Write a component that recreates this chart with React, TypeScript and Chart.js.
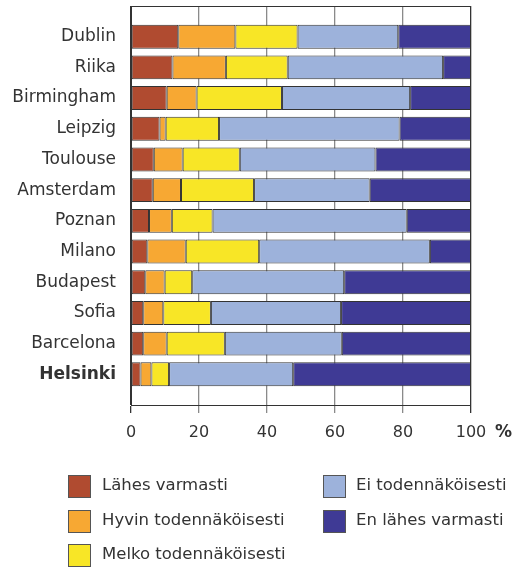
import React, { useEffect, useRef } from "react";
import { Chart, registerables } from "chart.js";

Chart.register(...registerables);

const cities = [
  "Dublin", "Riika", "Birmingham", "Leipzig", "Toulouse", "Amsterdam",
  "Poznan", "Milano", "Budapest", "Sofia", "Barcelona", "Helsinki",
];

const seriesNames = [
  "Lähes varmasti",
  "Hyvin todennäköisesti",
  "Melko todennäköisesti",
  "Ei todennäköisesti",
  "En lähes varmasti",
];

const lahesVarmasti = [13.9, 12.2, 10.5, 8.4, 6.7, 6.4, 5.3, 4.8, 4.2, 3.6, 3.6, 2.8];
const hyvinTod = [16.8, 15.7, 8.8, 1.8, 8.5, 8.3, 6.7, 11.3, 5.7, 5.9, 6.9, 3.2];
const melkoTod = [18.3, 18.2, 25.1, 15.7, 16.8, 21.5, 12.0, 21.6, 8.1, 14.0, 17.1, 5.2];
const eiTod = [29.6, 45.7, 37.7, 53.1, 39.9, 34.0, 57.1, 50.2, 44.7, 38.3, 34.4, 36.5];
const enLahes = [21.4, 8.2, 17.9, 21.0, 28.1, 29.8, 18.9, 12.1, 37.3, 38.2, 38.0, 52.3];

const xTicks = [0, 20, 40, 60, 80, 100];

const colors = ["#B04B30", "#F7A833", "#F8E626", "#9DB2DB", "#3F3A95"];

const FONT = "'DejaVu Sans', Verdana, sans-serif";

const legendPlugin = {
  id: "customLegend",
  afterDraw(chart: any) {
    const ctx = chart.ctx;
    const ds = chart.data.datasets;
    const cols = [
      { sq: 68, tx: 102, items: [0, 1, 2] },
      { sq: 323, tx: 356, items: [3, 4] },
    ];
    const rowY = [486, 521, 555];
    ctx.save();
    ctx.font = `16.5px ${FONT}`;
    ctx.textBaseline = "middle";
    ctx.textAlign = "left";
    cols.forEach((c) => {
      c.items.forEach((di, r) => {
        const y = rowY[r];
        ctx.fillStyle = ds[di].backgroundColor;
        ctx.fillRect(c.sq, y - 11, 22, 22);
        ctx.strokeStyle = "#555";
        ctx.lineWidth = 1;
        ctx.strokeRect(c.sq + 0.5, y - 10.5, 22, 22);
        ctx.fillStyle = "#333";
        ctx.fillText(ds[di].label, c.tx, y);
      });
    });
    // bold % after last x tick
    const xs = chart.scales.x;
    ctx.font = `bold 17px ${FONT}`;
    ctx.fillStyle = "#333";
    ctx.fillText("%", xs.getPixelForValue(100) + 24, 433);
    ctx.restore();
  },
};

export default function App() {
  const ref = useRef<HTMLCanvasElement | null>(null);

  useEffect(() => {
    if (!ref.current) return;
    const series = [lahesVarmasti, hyvinTod, melkoTod, eiTod, enLahes];
    const chart = new Chart(ref.current, {
      type: "bar",
      data: {
        datasets: series.map((vals, si) => ({
          label: seriesNames[si],
          data: vals.map((v, i) => ({ x: v, y: i })),
          backgroundColor: colors[si],
          borderColor: "#333",
          borderWidth: 1,
          borderSkipped: false,
          categoryPercentage: 0.78,
          barPercentage: 1,
        })),
      },
      options: {
        indexAxis: "y",
        animation: false,
        responsive: false,
        maintainAspectRatio: false,
        layout: { padding: { left: 0, right: 51, top: 6, bottom: 0 } },
        plugins: {
          legend: { display: false },
          tooltip: { enabled: false },
        },
        scales: {
          x: {
            type: "linear",
            stacked: true,
            min: 0,
            max: 100,
            offset: false,
            afterBuildTicks: (scale: any) => {
              scale.ticks = xTicks.map((v) => ({ value: v }));
            },
            afterFit: (scale: any) => {
              scale.height = 162;
              scale.paddingLeft = 0;
              scale.paddingRight = 0;
            },
            grid: {
              offset: false,
              color: (c: any) =>
                c.tick && (c.tick.value === 0 || c.tick.value === 100) ? "#333" : "#8a8a8a",
              lineWidth: 1.3,
              tickLength: 8,
              drawTicks: true,
            },
            border: { display: true, color: "#333", width: 1 },
            ticks: {
              color: "#333",
              font: { family: FONT, size: 16 },
              padding: 10,
              maxRotation: 0,
            },
          },
          y: {
            type: "linear",
            stacked: true,
            reverse: true,
            min: -1,
            max: 12,
            offset: false,
            afterBuildTicks: (scale: any) => {
              const t: any[] = [];
              for (let v = -1; v <= 12; v++) t.push({ value: v });
              scale.ticks = t;
            },
            afterFit: (scale: any) => {
              scale.width = 131;
              scale.paddingTop = 0;
              scale.paddingBottom = 0;
            },
            grid: {
              offset: false,
              color: (c: any) => (c.tick && c.tick.value === -1 ? "#333" : "rgba(0,0,0,0)"),
              lineWidth: 1,
              drawTicks: false,
            },
            border: { display: true, color: "#333", width: 1 },
            ticks: {
              color: "#333",
              padding: 15,
              autoSkip: false,
              font: (c: any) => ({
                family: FONT,
                size: 17,
                weight: c.tick && c.tick.value === 11 ? "bold" : "normal",
              }),
              callback: (v: any) => (v >= 0 && v < cities.length ? cities[v] : ""),
            },
          },
        },
      },
      plugins: [legendPlugin],
    } as any);
    return () => chart.destroy();
  }, []);

  return (
    <div style={{ position: "fixed", left: 0, top: 0, width: 522, height: 567, background: "#fff" }}>
      <canvas ref={ref} width={522} height={567} style={{ width: 522, height: 567, display: "block" }} />
    </div>
  );
}
